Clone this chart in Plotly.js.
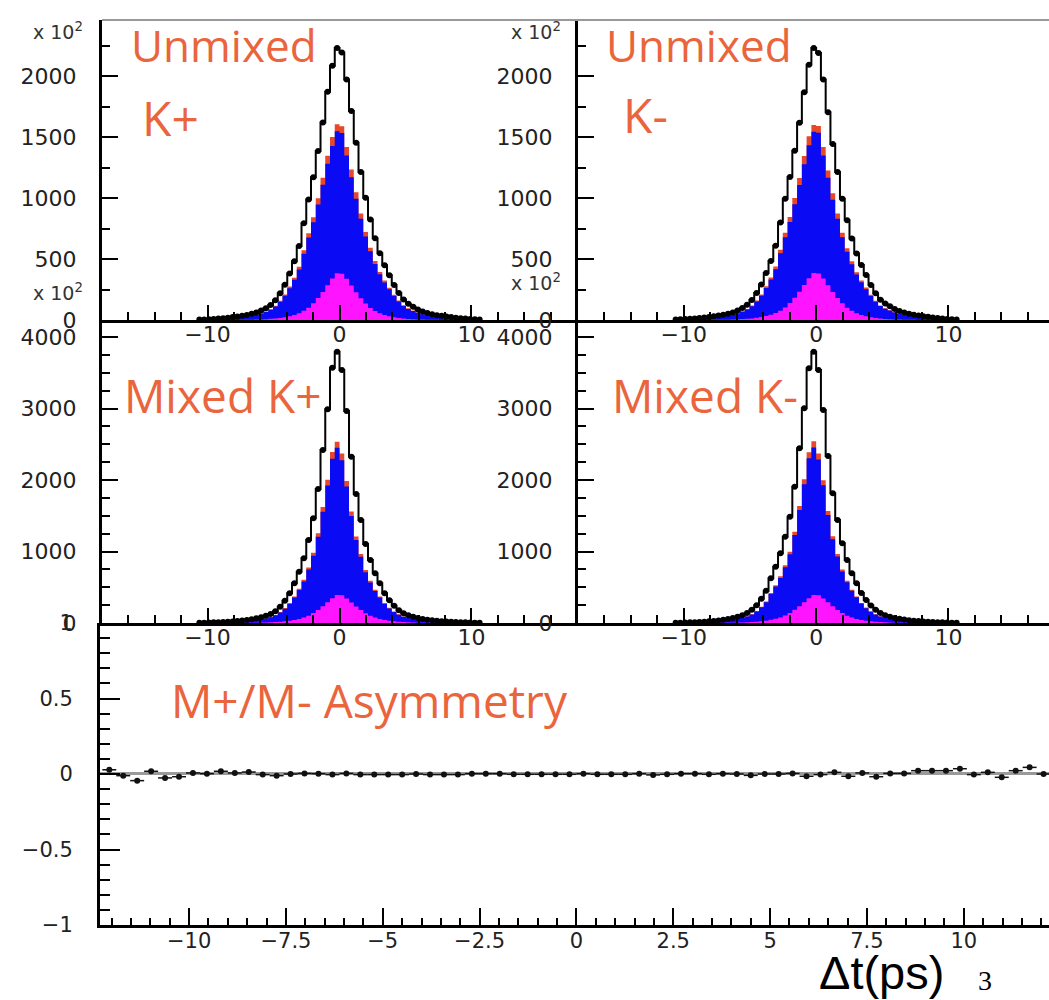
<!DOCTYPE html>
<html>
<head>
<meta charset="utf-8">
<script src="https://cdn.plot.ly/plotly-3.0.1.min.js"></script>
<style>html,body{margin:0;padding:0;background:#fff;}#chart{width:1049px;height:1000px;}</style>
</head>
<body>
<div id="chart"></div>
<script>
// Bin centres of the Δt histograms (ps)
const binCenters = [-10.62,-10.26,-9.9,-9.54,-9.18,-8.82,-8.46,-8.1,-7.74,-7.38,-7.02,-6.66,-6.3,-5.94,-5.58,-5.22,-4.86,-4.5,-4.14,-3.78,-3.42,-3.06,-2.7,-2.34,-1.98,-1.62,-1.26,-0.9,-0.54,-0.18,
  0.18,0.54,0.9,1.26,1.62,1.98,2.34,2.7,3.06,3.42,3.78,4.14,4.5,4.86,5.22,5.58,5.94,6.3,6.66,7.02,7.38,7.74,8.1,8.46,8.82,9.18,9.54,9.9,10.26,10.62];

// Unmixed K+ (top left)
const unmixKpData = [4,5,7,9,12,15,19,24,29,35,42,51,61,77,97,124,163,220,290,382,482,607,795,990,1172,1388,1622,1874,2088,2233,
  2197,1974,1715,1455,1215,1003,825,672,548,450,368,287,222,168,134,108,86,70,58,48,40,34,29,24,19,15,12,9,7,5];
const unmixKpRed = [3,4,5,6,9,11,14,17,21,25,30,37,44,55,70,89,117,158,209,275,347,437,572,713,844,999,1168,1349,1503,1607,
  1590,1421,1235,1048,875,722,594,484,395,324,265,207,160,121,96,78,62,50,42,35,29,24,21,17,14,11,9,6,5,4];
const unmixKpBlue = [3,4,5,6,8,10,13,16,20,24,28,35,42,52,66,85,111,150,199,261,330,415,543,677,802,949,1110,1282,1428,1550,
  1535,1350,1173,996,831,686,564,460,375,308,252,197,152,115,91,74,59,48,40,33,28,23,20,16,13,10,8,6,5,4];
const unmixKpMag = [0,0,0,0,0,1,1,1,1,2,2,3,4,5,7,10,13,17,23,31,42,56,75,100,138,180,230,285,340,383,
  380,338,283,228,178,136,99,74,55,41,30,22,16,12,9,7,5,4,3,2,2,1,1,1,1,0,0,0,0,0];

// Unmixed K- (top right)
const unmixKmData = [5,6,8,10,13,16,20,25,30,36,43,52,62,78,98,125,165,222,292,385,485,610,800,995,1175,1390,1620,1870,2096,2233,
  2192,1974,1705,1444,1215,995,818,669,546,451,370,288,220,166,135,112,90,73,61,51,43,37,31,26,21,16,12,9,7,5];
const unmixKmRed = [4,4,6,7,9,12,14,18,22,26,31,37,45,56,71,90,119,160,210,277,349,439,576,716,846,1001,1166,1346,1509,1600,
  1593,1421,1228,1040,875,716,589,482,393,325,266,207,158,120,97,81,65,53,44,37,31,27,22,19,15,12,9,6,5,4];
const unmixKmBlue = [4,4,6,7,9,11,13,17,21,25,29,35,43,53,67,86,113,152,200,263,332,417,547,680,804,951,1108,1279,1434,1545,
  1538,1350,1167,988,831,680,560,458,373,309,253,197,150,114,92,77,62,50,42,35,29,26,21,18,14,11,9,6,5,4];
const unmixKmMag = [0,0,0,0,0,1,1,1,2,2,3,3,4,6,8,10,13,18,24,32,43,57,76,102,140,182,232,287,342,385,
  382,340,285,230,180,137,100,75,56,42,31,23,17,13,9,7,5,4,3,2,2,1,1,1,0,0,0,0,0,0];

// Mixed K+ (middle left)
const mixKpData = [4,5,7,9,11,14,18,22,28,35,43,53,66,82,100,125,165,228,312,415,555,717,905,1161,1464,1874,2420,2988,3571,3794,
  3538,2965,2326,1804,1441,1105,881,695,555,415,318,240,180,138,108,86,70,57,47,39,32,26,21,17,14,11,9,7,5,4];
const mixKpRed = [3,3,5,6,7,9,12,15,19,23,29,36,44,55,67,84,111,153,209,278,372,480,606,778,981,1256,1621,2002,2393,2536,
  2370,1987,1558,1209,965,740,590,466,372,278,213,161,121,92,72,58,47,38,31,26,21,17,14,11,9,7,6,5,3,3];
const mixKpBlue = [3,3,5,6,7,9,12,14,18,22,28,35,42,53,64,81,107,147,201,267,357,461,582,747,942,1206,1556,1922,2297,2450,
  2275,1908,1496,1161,926,710,566,447,357,267,204,155,116,88,69,56,45,36,30,25,20,16,13,11,9,7,6,5,3,3];
const mixKpMag = [0,0,0,0,0,1,1,1,2,2,3,3,4,6,8,10,13,18,24,32,43,57,77,103,140,183,235,290,345,390,
  387,343,288,232,181,138,101,76,56,42,31,23,17,13,9,7,5,4,3,2,2,1,1,1,0,0,0,0,0,0];

// Mixed K- (middle right)
const mixKmData = [4,5,7,9,12,15,19,23,29,36,45,56,70,88,110,140,185,250,340,450,625,787,975,1207,1487,1906,2443,3003,3562,3794,
  3538,2979,2336,1814,1441,1115,881,695,555,420,322,245,184,140,110,88,71,58,48,40,33,27,22,18,14,11,9,7,5,4];
const mixKmRed = [3,3,5,6,8,10,13,15,19,24,30,38,47,59,74,94,124,168,228,302,419,527,653,809,996,1277,1637,2012,2387,2542,
  2370,1996,1565,1215,965,747,590,466,372,281,216,164,123,94,74,59,48,39,32,27,22,18,15,12,9,7,6,5,3,3];
const mixKmBlue = [3,3,5,6,8,10,12,14,18,23,29,37,45,57,71,91,120,162,220,291,404,509,630,781,961,1232,1580,1942,2303,2453,
  2287,1926,1510,1172,931,721,569,450,359,271,208,158,119,91,71,57,46,38,31,26,21,17,14,12,9,7,6,5,3,3];
const mixKmMag = [0,0,0,0,1,1,1,1,2,2,3,3,4,6,8,10,14,18,25,33,44,58,78,104,141,184,236,291,346,392,
  388,344,289,233,182,139,102,76,57,43,32,24,17,13,10,7,5,4,3,2,2,1,1,1,1,0,0,0,0,0];

// M+/M- asymmetry (bottom)
const asymCenters = [-12.06,-11.7,-11.34,-10.98,-10.62,-10.26,-9.9,-9.54,-9.18,-8.82,-8.46,-8.1,-7.74,-7.38,-7.02,-6.66,-6.3,-5.94,-5.58,-5.22,-4.86,-4.5,-4.14,
  -3.78,-3.42,-3.06,-2.7,-2.34,-1.98,-1.62,-1.26,-0.9,-0.54,-0.18,0.18,0.54,0.9,1.26,1.62,1.98,2.34,2.7,3.06,3.42,3.78,
  4.14,4.5,4.86,5.22,5.58,5.94,6.3,6.66,7.02,7.38,7.74,8.1,8.46,8.82,9.18,9.54,9.9,10.26,10.62,10.98,11.34,11.7,12.06];
const asymValues = [0.028,-0.011,-0.044,0.018,-0.026,-0.018,0.007,0.002,0.018,0.007,0.013,-0.004,-0.011,0,0.004,0.002,-0.004,0.004,-0.004,-0.004,-0.004,-0.004,0,
  -0.004,-0.004,-0.004,0.002,0.002,0.002,-0.002,-0.002,-0.002,-0.002,-0.002,0.002,-0.002,-0.002,-0.002,0.002,-0.006,-0.002,0.002,0.002,-0.002,0.002,
  0,-0.009,0,0,0.004,-0.015,-0.004,0.011,-0.015,0.007,-0.018,0.004,0.004,0.022,0.022,0.022,0.035,-0.004,0.011,-0.022,0.022,0.044,0];
const fitX = [-12.3, 12.2];
const fitY = [0.003, 0.003];

const xTickLabelsHist = ["−10", "0", "10"];
const xTickLabelsAsym = ["−10","−7.5","−5","−2.5","0","2.5","5","7.5","10"];

const BLUE = '#0a0af5', MAG = '#ff14ff', RED = '#e8482a';
const traces = [];
function panel(xa, ya, data, red, blue, mag) {
  traces.push({x: binCenters, y: red, xaxis: xa, yaxis: ya, type: 'scatter', mode: 'lines',
    line: {shape: 'hvh', width: 0, color: RED}, fill: 'tozeroy', fillcolor: RED, hoverinfo: 'skip'});
  traces.push({x: binCenters, y: blue, xaxis: xa, yaxis: ya, type: 'scatter', mode: 'lines',
    line: {shape: 'hvh', width: 0, color: BLUE}, fill: 'tozeroy', fillcolor: BLUE, hoverinfo: 'skip'});
  traces.push({x: binCenters, y: mag, xaxis: xa, yaxis: ya, type: 'scatter', mode: 'lines',
    line: {shape: 'hvh', width: 0, color: MAG}, fill: 'tozeroy', fillcolor: MAG, hoverinfo: 'skip'});
  traces.push({x: binCenters, y: data, xaxis: xa, yaxis: ya, type: 'scatter', mode: 'lines+markers',
    line: {shape: 'hvh', width: 2, color: '#000'}, marker: {symbol: 'circle', size: 6, color: '#000'}});
}
panel('x', 'y', unmixKpData, unmixKpRed, unmixKpBlue, unmixKpMag);
panel('x2', 'y2', unmixKmData, unmixKmRed, unmixKmBlue, unmixKmMag);
panel('x3', 'y3', mixKpData, mixKpRed, mixKpBlue, mixKpMag);
panel('x4', 'y4', mixKmData, mixKmRed, mixKmBlue, mixKmMag);
traces.push({x: fitX, y: fitY, xaxis: 'x5', yaxis: 'y5', type: 'scatter', mode: 'lines',
  line: {color: '#9a9a9a', width: 3}});
traces.push({x: asymCenters, y: asymValues, xaxis: 'x5', yaxis: 'y5', type: 'scatter', mode: 'markers',
  marker: {symbol: 'circle', size: 6, color: '#111'},
  error_x: {type: 'constant', value: 0.18, thickness: 1.5, width: 0, color: '#111'},
  error_y: {type: 'constant', value: 0.012, thickness: 1.5, width: 0, color: '#111'}});

const W = 1049, H = 1000;
const px = v => v / W, py = v => 1 - v / H;
const tickFont = {family: 'DejaVu Sans, Arial, sans-serif', size: 22, color: '#222'};
function xAxis(domain, range, anchor, labels) {
  return {domain: domain, range: range, anchor: anchor, showgrid: false, zeroline: false,
    showline: true, linecolor: '#000', linewidth: 3, ticks: 'inside', ticklen: 15, tickwidth: 2, tickcolor: '#000',
    tickvals: [-10, 0, 10], ticktext: labels, tickfont: tickFont, ticklabelstandoff: -7,
    minor: {ticks: 'inside', ticklen: 8, tickwidth: 2, tickcolor: '#000', dtick: 2, tick0: 0, showgrid: false}};
}
function yAxis(domain, range, anchor, dtick, minorDtick) {
  return {domain: domain, range: range, anchor: anchor, showgrid: false, zeroline: false,
    showline: true, linecolor: '#000', linewidth: 3, ticks: 'inside', ticklen: 16, tickwidth: 2, tickcolor: '#000',
    dtick: dtick, tick0: 0, tickfont: tickFont, ticklabelstandoff: 18,
    minor: {ticks: 'inside', ticklen: 8, tickwidth: 2, tickcolor: '#000', dtick: minorDtick, tick0: 0, showgrid: false}};
}
const leftDom = [px(102), px(577)], rightDom = [px(578), 1];
const topDom = [py(320), py(20)], midDom = [py(623), py(320)], botDom = [py(925), py(623)];

const layout = {
  width: W, height: H, margin: {l: 0, r: 0, t: 0, b: 0},
  paper_bgcolor: '#fff', plot_bgcolor: 'rgba(0,0,0,0)', showlegend: false,
  xaxis: xAxis(leftDom, [-18, 18], 'y', xTickLabelsHist),
  yaxis: yAxis(topDom, [0, 2463], 'x', 500, 250),
  xaxis2: xAxis(rightDom, [-18, 17.6], 'y2', xTickLabelsHist),
  yaxis2: yAxis(topDom, [0, 2463], 'x2', 500, 250),
  xaxis3: xAxis(leftDom, [-18, 18], 'y3', xTickLabelsHist),
  yaxis3: yAxis(midDom, [0, 4238], 'x3', 1000, 250),
  xaxis4: xAxis(rightDom, [-18, 17.6], 'y4', xTickLabelsHist),
  yaxis4: yAxis(midDom, [0, 4238], 'x4', 1000, 250),
  xaxis5: Object.assign(xAxis([px(100), 1], [-12.3, 12.2], 'y5', xTickLabelsAsym),
    {tickvals: [-10, -7.5, -5, -2.5, 0, 2.5, 5, 7.5, 10], ticklen: 17, tickfont: Object.assign({}, tickFont, {size: 21}), ticklabelstandoff: -5,
     minor: {ticks: 'inside', ticklen: 7, tickwidth: 2, tickcolor: '#000', dtick: 0.5, tick0: 0, showgrid: false}}),
  yaxis5: Object.assign(yAxis(botDom, [-1, 1], 'x5', 0.5, 0.1), {ticklen: 20, ticklabelstandoff: 20, tickfont: Object.assign({}, tickFont, {size: 21}), minor: {ticks: 'inside', ticklen: 10, tickwidth: 2, tickcolor: '#000', dtick: 0.1, tick0: 0, showgrid: false}}),
  shapes: [
    {type: 'line', xref: 'paper', yref: 'paper', x0: px(102), x1: 1, y0: py(20), y1: py(20), line: {color: '#999', width: 2}}
  ],
  annotations: []
};
const ORANGE = '#ea643c';
const hand = 'Open Sans, Noto Sans, sans-serif';
function note(text, cx, cy, size, color, family) {
  layout.annotations.push({text: text, xref: 'paper', yref: 'paper', x: px(cx), y: py(cy),
    xanchor: 'center', yanchor: 'middle', showarrow: false, font: {family: family || hand, size: size, color: color || ORANGE}});
}
note('Unmixed', 224, 45, 44);
note('K+', 170, 117, 48);
note('Unmixed', 699, 45, 44);
note('K-', 645, 115, 48);
note('Mixed K+', 222, 395, 46);
note('Mixed K-', 705, 395, 46);
note('M+/M- Asymmetry', 369, 700, 46);
note('Δt(ps)', 881, 972, 47, '#000', 'Liberation Sans, Arial, sans-serif');
note('3', 985, 980, 28, '#000', 'Liberation Serif, serif');
const expFont = 'DejaVu Sans, sans-serif';
note('x 10<sup>2</sup>', 58, 31, 19, '#333', expFont);
note('x 10<sup>2</sup>', 58, 292, 19, '#333', expFont);
note('x 10<sup>2</sup>', 536, 31, 19, '#333', expFont);
note('x 10<sup>2</sup>', 536, 282, 19, '#333', expFont);

Plotly.newPlot('chart', traces, layout, {staticPlot: true});
</script>
</body>
</html>
